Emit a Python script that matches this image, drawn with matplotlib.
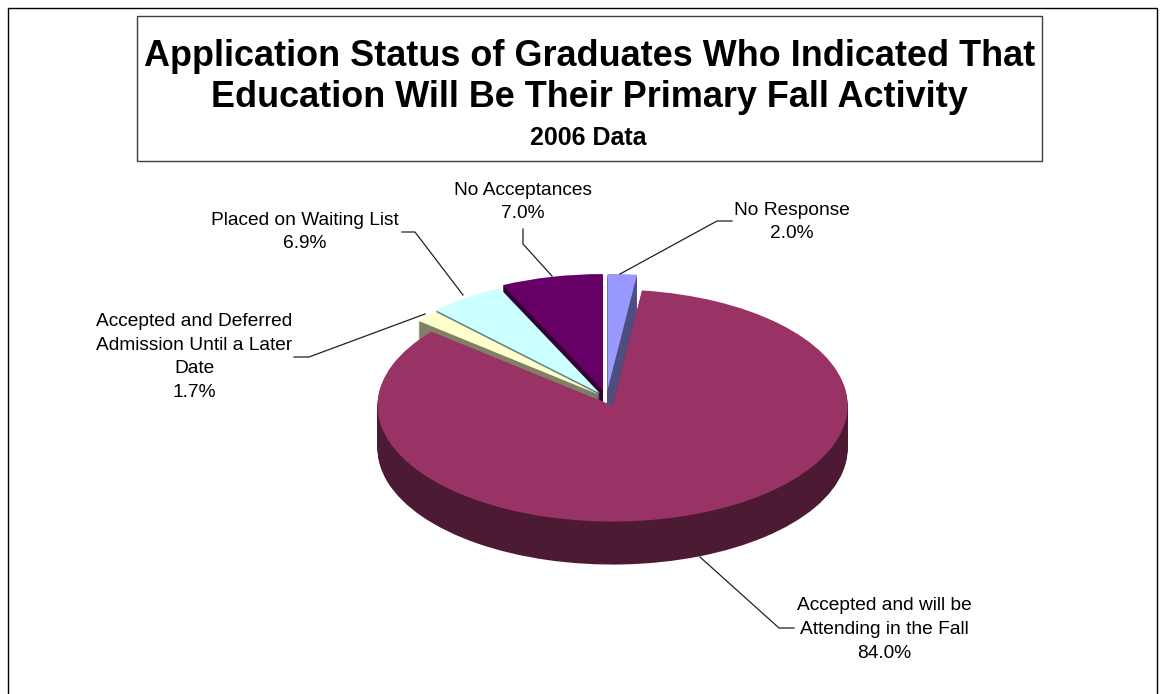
import matplotlib
matplotlib.use("Agg")
import matplotlib.pyplot as plt

plt.rcParams['font.family'] = ['Liberation Sans', 'DejaVu Sans']

# slice sizes as drawn, the label text is kept on its own below
names = ["No Response", "Accepted and will be Attending", "Deferred", "Waiting List", "No Acceptances"]
sizes = [2.0, 84.0, 1.7, 5.3, 7.0]
top_colors = ["#9999FF", "#993366", "#FFFFCC", "#CCFFFF", "#660066"]
side_colors = ["#4D4D80", "#4D1A33", "#808066", "#668080", "#330033"]

title_lines = ["Application Status of Graduates Who Indicated That",
               "Education Will Be Their Primary Fall Activity"]
subtitle = "2006 Data"
label_texts = ["No Response\n2.0%",
               "Accepted and will be\nAttending in the Fall\n84.0%",
               "Accepted and Deferred\nAdmission Until a Later\nDate\n1.7%",
               "Placed on Waiting List\n6.9%",
               "No Acceptances\n7.0%"]
label_xy = [(792, 222), (884, 629.5), (194.5, 357), (305, 232), (523, 202)]

fig = plt.figure(figsize=(11.65, 6.94), dpi=100)

# overlay in pixel coords for frame, title and labels
ax2 = fig.add_axes([0, 0, 1, 1], zorder=5)
ax2.set_xlim(0, 1165)
ax2.set_ylim(694, 0)
ax2.axis("off")
ax2.patch.set_alpha(0)

# pie axes, one data unit is 235px across and 116px high
cx, cy, rx, ry = 606.5, 398, 235, 116
ax = fig.add_axes([(cx - 2 * rx) / 1165, 1 - (cy + 2 * ry) / 694, 4 * rx / 1165, 4 * ry / 694], zorder=1)

explode = [0.07, 0.07, 0.04, 0.05, 0.07]
# back slices first, the big one last so it covers their sides
order = {0: 0, 4: 1, 3: 2, 2: 3, 1: 4}
depth = 43
for d in range(depth, -1, -1):
    cols = top_colors if d == 0 else side_colors
    wedges, _ = ax.pie(sizes, colors=cols, explode=explode, startangle=90, counterclock=False,
                       center=(0, -d / ry), wedgeprops={"linewidth": 0})
    for i, w in enumerate(wedges):
        w.set_zorder(order[i] * 2 + (1 if d == 0 else 0))
ax.set_aspect("auto")
ax.set_xlim(-2, 2)
ax.set_ylim(-2, 2)
ax.axis("off")

# outer frame
ax2.plot([8, 8, 1157, 1157], [694, 8, 8, 694], color="black", lw=1)
ax2.add_patch(plt.Rectangle((136.5, 16), 905.5, 144.5, fill=False, edgecolor="#404040", lw=1))
ax2.text(589.5, 56, title_lines[0], ha="center", va="center", fontsize=25.9, fontweight="bold")
ax2.text(589.5, 97, title_lines[1], ha="center", va="center", fontsize=25.9, fontweight="bold")
ax2.text(588.5, 138, subtitle, ha="center", va="center", fontsize=18, fontweight="bold")

for txt, (x, y) in zip(label_texts, label_xy):
    ax2.text(x, y, txt, ha="center", va="center", fontsize=13.8, linespacing=1.52, color="black")

# leader lines
line_col = "#202020"
ax2.plot([620, 717, 732], [274, 221, 221], color=line_col, lw=0.9)
ax2.plot([700, 779, 794], [557, 628, 628], color=line_col, lw=0.9)
ax2.plot([425, 309, 294], [314, 357, 357], color=line_col, lw=0.9)
ax2.plot([463, 415, 402], [295, 232, 232], color=line_col, lw=0.9)
ax2.plot([552, 523, 523], [276, 244, 229], color=line_col, lw=0.9)

fig.savefig("out.png", dpi=100)
